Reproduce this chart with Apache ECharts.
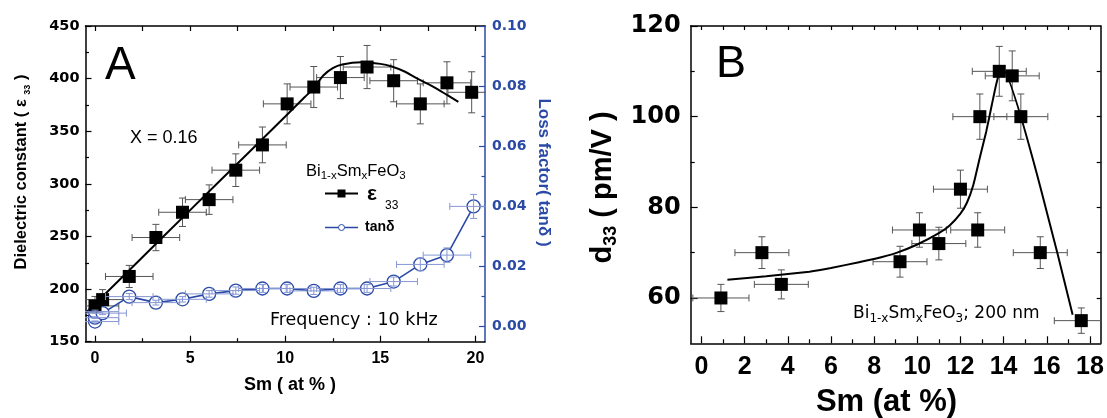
<!DOCTYPE html>
<html><head><meta charset="utf-8">
<script src="https://cdn.jsdelivr.net/npm/echarts@6/dist/echarts.min.js"></script>
<style>html,body{margin:0;padding:0;background:#fff}#c{width:1107px;height:418px}</style>
</head><body><div id="c"></div>
<script>
// ---------- Panel A : dielectric constant (left axis) ----------
const epsX    = [0, 0.4, 1.8, 3.2, 4.6, 6.0, 7.4, 8.8, 10.1, 11.5, 12.9, 14.3, 15.7, 17.1, 18.5, 19.8];
const epsY    = [184, 190, 212, 249, 273, 285, 313, 337, 376, 392, 401, 411, 398, 376, 396, 387];
const epsXErr = [1.25, 1.25, 1.25, 1.25, 1.25, 1.25, 1.25, 1.25, 1.25, 1.25, 1.25, 1.25, 1.25, 1.25, 1.25, 1.25];
const epsYErr = [9, 9.5, 10.5, 12.5, 13.5, 14, 15.5, 17, 19, 19.5, 20, 20.5, 20, 19, 20, 19.5];
const epsFitX = [-0.5, 2, 5, 8, 10, 11, 11.5, 12, 12.5, 13, 14, 15, 15.6, 16.3, 16.9, 17.5, 18, 18.5, 19.1];
const epsFitY = [177, 221.5, 275, 328.4, 364, 382, 391, 403, 410, 413.5, 415.5, 414, 411.5, 406.5, 400.5, 395, 390, 384.5, 378];
// ---------- Panel A : loss factor (right axis) ----------
const tanX    = [0, 0, 0, 0.4, 1.8, 3.2, 4.6, 6.0, 7.4, 8.8, 10.1, 11.5, 12.9, 14.3, 15.7, 17.1, 18.5, 19.9];
const tanY    = [0.0017, 0.003, 0.005, 0.0045, 0.0100, 0.0080, 0.0091, 0.0109, 0.0120, 0.0127, 0.0127, 0.0119, 0.0127, 0.0127, 0.0150, 0.0207, 0.0238, 0.0400];
const tanXErr = [1.25, 1.25, 1.25, 1.25, 1.25, 1.25, 1.25, 1.25, 1.25, 1.25, 1.25, 1.25, 1.25, 1.25, 1.25, 1.25, 1.25, 1.25];
const tanYErr = [0.0002, 0.0003, 0.0005, 0.0005, 0.0010, 0.0008, 0.0009, 0.0011, 0.0012, 0.0013, 0.0013, 0.0012, 0.0013, 0.0013, 0.0015, 0.0021, 0.0024, 0.0040];
// ---------- Panel B : d33 ----------
const d33X    = [0.9, 2.8, 3.7, 9.2, 10.1, 11.0, 12.0, 12.8, 12.9, 13.8, 14.4, 14.8, 15.7, 17.6];
const d33Y    = [60, 70, 63, 68, 75, 72, 84, 75, 100, 110, 109, 100, 70, 55];
const d33XErr = [1.3, 1.25, 1.25, 1.25, 1.25, 1.25, 1.25, 1.25, 1.25, 1.25, 1.25, 1.25, 1.25, 1.25];
const d33YErr = [3, 3.5, 3.2, 3.4, 3.8, 3.6, 4.2, 3.8, 5, 5.5, 5.5, 5, 3.5, 2.8];
const d33FitX = [1.2, 3, 5, 6, 7.3, 8, 9, 10, 11, 11.5, 12, 12.3, 12.6, 12.9, 13.2, 13.45, 13.65, 13.8, 13.95, 17.2];
const d33FitY = [64, 64.8, 65.8, 66.6, 67.9, 68.6, 69.9, 71.8, 74.3, 76, 78.6, 81, 85, 91, 96.8, 102.5, 107, 109.5, 110.5, 56.3];
// ---------- tick labels ----------
const aXLabels   = [0, 5, 10, 15, 20];
const aXMinor    = [2.5, 7.5, 12.5, 17.5];
const aXTop      = [0, 2.5, 5, 7.5, 10, 12.5, 15, 17.5, 20];
const aRLabels   = [0, 0.02, 0.04, 0.06, 0.08, 0.10];
const aRMinor    = [0.01, 0.03, 0.05, 0.07, 0.09];
const bXLabels   = [0, 2, 4, 6, 8, 10, 12, 14, 16, 18];
const bXMinor    = [1, 3, 5, 7, 9, 11, 13, 15, 17];
const bXTop      = [0,1,2,3,4,5,6,7,8,9,10,11,12,13,14,15,16,17,18];
const bYLabels   = [60, 80, 100, 120];
const bYMinor    = [70, 90, 110];
const bYRight    = [60, 70, 80, 90, 100, 110];

const BLUE = '#2a4aa6';
const BLUE_LIGHT = '#8797d4';
const DJ = '"DejaVu Sans"';
const LS = '"Liberation Sans"';

function zip(a, b, c, d) { return a.map((v, i) => c ? [v, b[i], c[i], d[i]] : [v, b[i]]); }

function errRender(color, cap) {
  return function (params, api) {
    const x = api.value(0), y = api.value(1), dx = api.value(2), dy = api.value(3);
    const c = api.coord([x, y]);
    const l = api.coord([x - dx, y]), r = api.coord([x + dx, y]);
    const t = api.coord([x, y + dy]), b = api.coord([x, y - dy]);
    const st = { stroke: color, lineWidth: 1 };
    const ln = (x1, y1, x2, y2) => ({ type: 'line', shape: { x1, y1, x2, y2 }, style: st });
    return { type: 'group', children: [
      ln(l[0], c[1], r[0], c[1]),
      ln(l[0], c[1] - cap, l[0], c[1] + cap),
      ln(r[0], c[1] - cap, r[0], c[1] + cap),
      ln(c[0], t[1], c[0], b[1]),
      ln(c[0] - cap, t[1], c[0] + cap, t[1]),
      ln(c[0] - cap, b[1], c[0] + cap, b[1])
    ]};
  };
}

const axLine = (color) => ({ show: true, onZero: false, lineStyle: { color: color || '#000', width: 1.5 } });
const noSplit = { show: false };
function tick(values, len, color) {
  return { show: true, inside: true, length: len, customValues: values, lineStyle: { color: color || '#000', width: 1.2 } };
}
const hidden = { show: false, onZero: false };

const xAxes = [
  { gridIndex: 0, type: 'value', min: -0.5, max: 20.5, position: 'bottom', axisLine: axLine(), splitLine: noSplit,
    axisTick: tick(aXLabels, 6),
    axisLabel: { customValues: aXLabels, margin: 9, fontFamily: LS, fontWeight: 'bold', fontSize: 16, color: '#000' } },
  { gridIndex: 0, type: 'value', min: -0.5, max: 20.5, position: 'bottom', axisLine: hidden, splitLine: noSplit,
    axisTick: tick(aXMinor, 3.5), axisLabel: { show: false } },
  { gridIndex: 0, type: 'value', min: -0.5, max: 20.5, position: 'top', axisLine: axLine(), splitLine: noSplit,
    axisTick: tick(aXTop, 5), axisLabel: { show: false } },
  { gridIndex: 1, type: 'value', min: -0.5, max: 18.5, position: 'bottom', axisLine: axLine(), splitLine: noSplit,
    axisTick: tick(bXLabels, 7),
    axisLabel: { customValues: bXLabels, margin: 11, fontFamily: LS, fontWeight: 'bold', fontSize: 25, color: '#000' } },
  { gridIndex: 1, type: 'value', min: -0.5, max: 18.5, position: 'bottom', axisLine: hidden, splitLine: noSplit,
    axisTick: tick(bXMinor, 4), axisLabel: { show: false } },
  { gridIndex: 1, type: 'value', min: -0.5, max: 18.5, position: 'top', axisLine: axLine(), splitLine: noSplit,
    axisTick: tick(bXTop, 4), axisLabel: { show: false } }
];

const yAxes = [
  { gridIndex: 0, type: 'value', min: 150, max: 450, interval: 50, position: 'left', axisLine: axLine(), splitLine: noSplit,
    axisTick: { show: true, inside: true, length: 6, lineStyle: { color: '#000', width: 1.2 } },
    minorTick: { show: true, splitNumber: 2, length: 3.5, lineStyle: { color: '#000', width: 1.2 } },
    axisLabel: { margin: 6, fontFamily: DJ, fontWeight: 'bold', fontSize: 14.5, color: '#000' } },
  { gridIndex: 0, type: 'value', min: -0.005, max: 0.1, position: 'right', axisLine: axLine(BLUE), splitLine: noSplit,
    axisTick: tick(aRLabels, 6, BLUE),
    axisLabel: { customValues: aRLabels, margin: 7, fontFamily: DJ, fontWeight: 'bold', fontSize: 14, color: BLUE,
      formatter: v => (+v).toFixed(2) } },
  { gridIndex: 0, type: 'value', min: -0.005, max: 0.1, position: 'right', axisLine: hidden, splitLine: noSplit,
    axisTick: tick(aRMinor, 3.5, BLUE), axisLabel: { show: false } },
  { gridIndex: 1, type: 'value', min: 50, max: 120, position: 'left', axisLine: axLine(), splitLine: noSplit,
    axisTick: tick(bYLabels, 7),
    axisLabel: { customValues: bYLabels, margin: 10, fontFamily: DJ, fontWeight: 'bold', fontSize: 24, color: '#000' } },
  { gridIndex: 1, type: 'value', min: 50, max: 120, position: 'left', axisLine: hidden, splitLine: noSplit,
    axisTick: tick(bYMinor, 4), axisLabel: { show: false } },
  { gridIndex: 1, type: 'value', min: 50, max: 120, position: 'right', axisLine: axLine(), splitLine: noSplit,
    axisTick: tick(bYRight, 4), axisLabel: { show: false } }
];

const series = [
  // Panel A
  { type: 'custom', xAxisIndex: 0, yAxisIndex: 0, renderItem: errRender('#555', 3.5), clip: true, z: 2,
    data: zip(epsX, epsY, epsXErr, epsYErr), silent: true },
  { type: 'line', xAxisIndex: 0, yAxisIndex: 0, data: zip(epsFitX, epsFitY), smooth: 0.3, showSymbol: false,
    lineStyle: { color: '#000', width: 2 }, z: 3, silent: true },
  { type: 'scatter', xAxisIndex: 0, yAxisIndex: 0, data: zip(epsX, epsY), symbol: 'rect', symbolSize: 13,
    itemStyle: { color: '#000', opacity: 1 }, z: 4 },
  { type: 'line', xAxisIndex: 0, yAxisIndex: 1, data: zip(tanX, tanY), symbol: 'circle', symbolSize: 13,
    lineStyle: { color: BLUE, width: 1.6 }, itemStyle: { color: '#fff', borderColor: BLUE, borderWidth: 1.3 }, z: 3 },
  { type: 'custom', xAxisIndex: 0, yAxisIndex: 1, renderItem: errRender(BLUE_LIGHT, 3.5), clip: true, z: 5,
    data: zip(tanX, tanY, tanXErr, tanYErr), silent: true },
  // Panel B
  { type: 'custom', xAxisIndex: 3, yAxisIndex: 3, renderItem: errRender('#555', 3.5), clip: true, z: 2,
    data: zip(d33X, d33Y, d33XErr, d33YErr), silent: true },
  { type: 'line', xAxisIndex: 3, yAxisIndex: 3, data: zip(d33FitX, d33FitY), smooth: 0.15, showSymbol: false,
    lineStyle: { color: '#000', width: 2 }, z: 3, silent: true },
  { type: 'scatter', xAxisIndex: 3, yAxisIndex: 3, data: zip(d33X, d33Y), symbol: 'rect', symbolSize: 13,
    itemStyle: { color: '#000', opacity: 1 }, z: 4 }
];

function txt(x, y, text, font, opts) {
  return Object.assign({ type: 'text', x, y, z: 10, style: Object.assign({ text, font, fill: '#000', align: 'left', verticalAlign: 'middle' }, opts || {}) });
}

const graphic = [
  // Panel A texts
  txt(105, 66, 'A', `46px ${LS}`),
  txt(130, 138, 'X = 0.16', `18px ${LS}`),
  txt(270, 320, 'Frequency : 10 kHz', `17.5px ${DJ}`),
  { type: 'text', x: 306, y: 171, z: 10, style: {
      text: '{m|Bi}{s|1-x}{m|Sm}{s|x}{m|FeO}{s|3}', align: 'left', verticalAlign: 'middle',
      rich: { m: { font: `16.5px ${LS}`, fill: '#000', lineHeight: 22, verticalAlign: 'middle' },
              s: { font: `11.5px ${LS}`, fill: '#000', lineHeight: 12, verticalAlign: 'bottom' } } } },
  // legend rows
  { type: 'line', z: 10, shape: { x1: 325, y1: 193.5, x2: 358, y2: 193.5 }, style: { stroke: '#000', lineWidth: 2 } },
  { type: 'rect', z: 11, shape: { x: 337.5, y: 189.5, width: 8, height: 8 }, style: { fill: '#000' } },
  txt(367, 194, 'ε', `bold 21px ${LS}`),
  txt(385, 206, '33', `12px ${LS}`),
  { type: 'line', z: 10, shape: { x1: 325, y1: 227.5, x2: 358, y2: 227.5 }, style: { stroke: BLUE, lineWidth: 1.6 } },
  { type: 'circle', z: 11, shape: { cx: 341.5, cy: 227.5, r: 3 }, style: { fill: '#fff', stroke: BLUE, lineWidth: 1 } },
  txt(365, 227.5, 'tanδ', `bold 14px ${LS}`),
  // Panel A axis titles
  { type: 'text', x: 21.5, y: 172, rotation: Math.PI / 2, z: 10, style: {
      text: '{m|Dielectric constant ( ε }{s|33}{m| )}', align: 'center', verticalAlign: 'middle',
      rich: { m: { font: `bold 16.5px ${LS}`, fill: '#000', lineHeight: 22, verticalAlign: 'middle' },
              s: { font: `bold 9px ${LS}`, fill: '#000', lineHeight: 9, verticalAlign: 'bottom' } } } },
  { type: 'text', x: 544, y: 172.5, rotation: -Math.PI / 2, z: 10, style: {
      text: 'Loss factor( tanδ )', font: `bold 17px ${LS}`, fill: BLUE, align: 'center', verticalAlign: 'middle' } },
  txt(290, 385, 'Sm ( at % )', `bold 18px ${LS}`, { align: 'center' }),
  // Panel B texts
  txt(716, 65, 'B', `45px ${LS}`),
  { type: 'text', x: 853, y: 313.5, z: 10, style: {
      text: '{m|Bi}{s|1-x}{m|Sm}{s|x}{m|FeO}{s|3}{m|; 200 nm}', align: 'left', verticalAlign: 'middle',
      rich: { m: { font: `17px ${DJ}`, fill: '#000', lineHeight: 22, verticalAlign: 'middle' },
              s: { font: `12px ${DJ}`, fill: '#000', lineHeight: 12, verticalAlign: 'bottom' } } } },
  { type: 'text', x: 603, y: 187.5, rotation: Math.PI / 2, z: 10, style: {
      text: '{m|d}{s|33}{m| ( pm/V )}', align: 'center', verticalAlign: 'middle',
      rich: { m: { font: `bold 29px ${LS}`, fill: '#000', lineHeight: 34, verticalAlign: 'middle' },
              s: { font: `bold 18px ${LS}`, fill: '#000', lineHeight: 18, verticalAlign: 'bottom' } } } },
  txt(886.5, 402.5, 'Sm (at %)', `bold 31px ${LS}`, { align: 'center' })
];

const chart = echarts.init(document.getElementById('c'), null, { renderer: 'canvas' });
chart.setOption({
  animation: false,
  backgroundColor: '#fff',
  grid: [
    { left: 85.5, top: 26, width: 399.5, height: 315.7 },
    { left: 690.7, top: 26, width: 410, height: 317.3 }
  ],
  xAxis: xAxes,
  yAxis: yAxes,
  series,
  graphic
});
</script>
</body></html>
